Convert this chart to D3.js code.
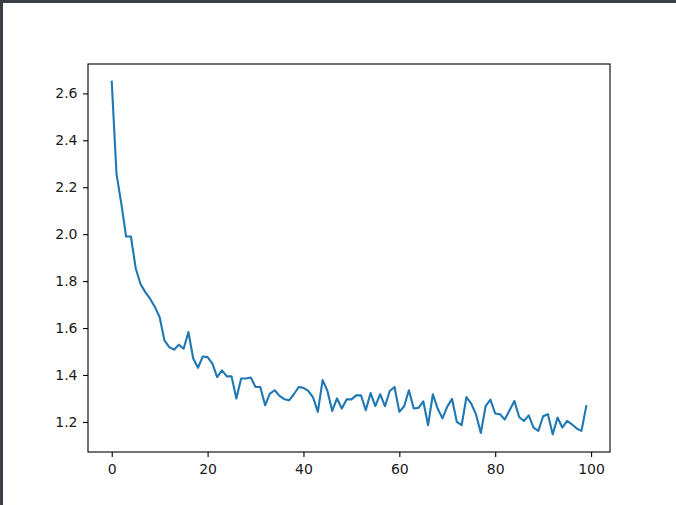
<!DOCTYPE html>
<html>
<head>
<meta charset="utf-8">
<script src="https://cdn.jsdelivr.net/npm/d3@7"></script>
<style>
  html, body { margin: 0; padding: 0; background: #fff; }
  svg { display: block; }
  text { font-family: "DejaVu Sans", sans-serif; }
</style>
</head>
<body>
<svg id="chart" width="676" height="505"></svg>
<script>
// ---- data ----
const epochs = d3.range(0, 100);
const lossValues = [
  2.650, 2.256, 2.130, 1.990, 1.990, 1.855, 1.788, 1.753, 1.725, 1.690,
  1.646, 1.547, 1.519, 1.508, 1.529, 1.512, 1.583, 1.470, 1.431, 1.479,
  1.476, 1.448, 1.391, 1.420, 1.394, 1.394, 1.300, 1.385, 1.385, 1.389,
  1.349, 1.349, 1.271, 1.321, 1.335, 1.311, 1.297, 1.292, 1.318, 1.349,
  1.345, 1.332, 1.305, 1.243, 1.378, 1.332, 1.247, 1.300, 1.257, 1.296,
  1.296, 1.313, 1.313, 1.250, 1.323, 1.267, 1.318, 1.267, 1.332, 1.349,
  1.243, 1.267, 1.335, 1.257, 1.260, 1.288, 1.186, 1.318, 1.257, 1.215,
  1.265, 1.298, 1.200, 1.186, 1.306, 1.278, 1.232, 1.153, 1.267, 1.295,
  1.236, 1.233, 1.210, 1.250, 1.289, 1.221, 1.204, 1.228, 1.176, 1.162,
  1.224, 1.233, 1.147, 1.219, 1.176, 1.204, 1.190, 1.172, 1.162, 1.267
];
const xTicks = [0, 20, 40, 60, 80, 100];
const yTicks = [1.2, 1.4, 1.6, 1.8, 2.0, 2.2, 2.4, 2.6];

// ---- layout ----
const W = 676, H = 505;
const plot = { left: 88, right: 610, top: 64, bottom: 452 };
const svg = d3.select("#chart");

svg.append("rect").attr("width", W).attr("height", H).attr("fill", "#fff");
// dark window frame (top and left)
svg.append("rect").attr("x", 0).attr("y", 0).attr("width", W).attr("height", 3).attr("fill", "#3b3f45");
svg.append("rect").attr("x", 0).attr("y", 0).attr("width", 3).attr("height", H).attr("fill", "#3b3f45");

// matplotlib-like 5% margins
const xMin = d3.min(epochs), xMax = d3.max(epochs);
const yMin = d3.min(lossValues), yMax = d3.max(lossValues);
const xPad = (xMax - xMin) * 0.05, yPad = (yMax - yMin) * 0.05;

const x = d3.scaleLinear().domain([xMin - xPad, xMax + xPad]).range([plot.left, plot.right]);
const y = d3.scaleLinear().domain([yMin - yPad, yMax + yPad]).range([plot.bottom, plot.top]);

// line
const line = d3.line().x((d, i) => x(epochs[i])).y(d => y(d));
svg.append("path")
  .datum(lossValues)
  .attr("fill", "none")
  .attr("stroke", "#1f77b4")
  .attr("stroke-width", 2.1)
  .attr("stroke-linejoin", "round")
  .attr("stroke-linecap", "square")
  .attr("d", line);

// axes
const xAxis = d3.axisBottom(x).tickValues(xTicks).tickFormat(d3.format("d")).tickSize(5).tickPadding(7).tickSizeOuter(0);
const yAxis = d3.axisLeft(y).tickValues(yTicks).tickFormat(d3.format(".1f")).tickSize(5).tickPadding(5.5).tickSizeOuter(0);

const gx = svg.append("g").attr("transform", `translate(0,${plot.bottom})`).call(xAxis);
const gy = svg.append("g").attr("transform", `translate(${plot.left},0)`).call(yAxis);
[gx, gy].forEach(g => {
  g.select(".domain").remove();
  g.selectAll(".tick line").attr("stroke", "#000").attr("stroke-width", 1.1);
  g.selectAll(".tick text").attr("fill", "#1a1a1a").style("font-size", "14px").style("font-family", "'DejaVu Sans', sans-serif");
});

// frame (spines)
svg.append("rect")
  .attr("x", plot.left).attr("y", plot.top)
  .attr("width", plot.right - plot.left).attr("height", plot.bottom - plot.top)
  .attr("fill", "none").attr("stroke", "#000").attr("stroke-width", 1.1);
</script>
</body>
</html>
